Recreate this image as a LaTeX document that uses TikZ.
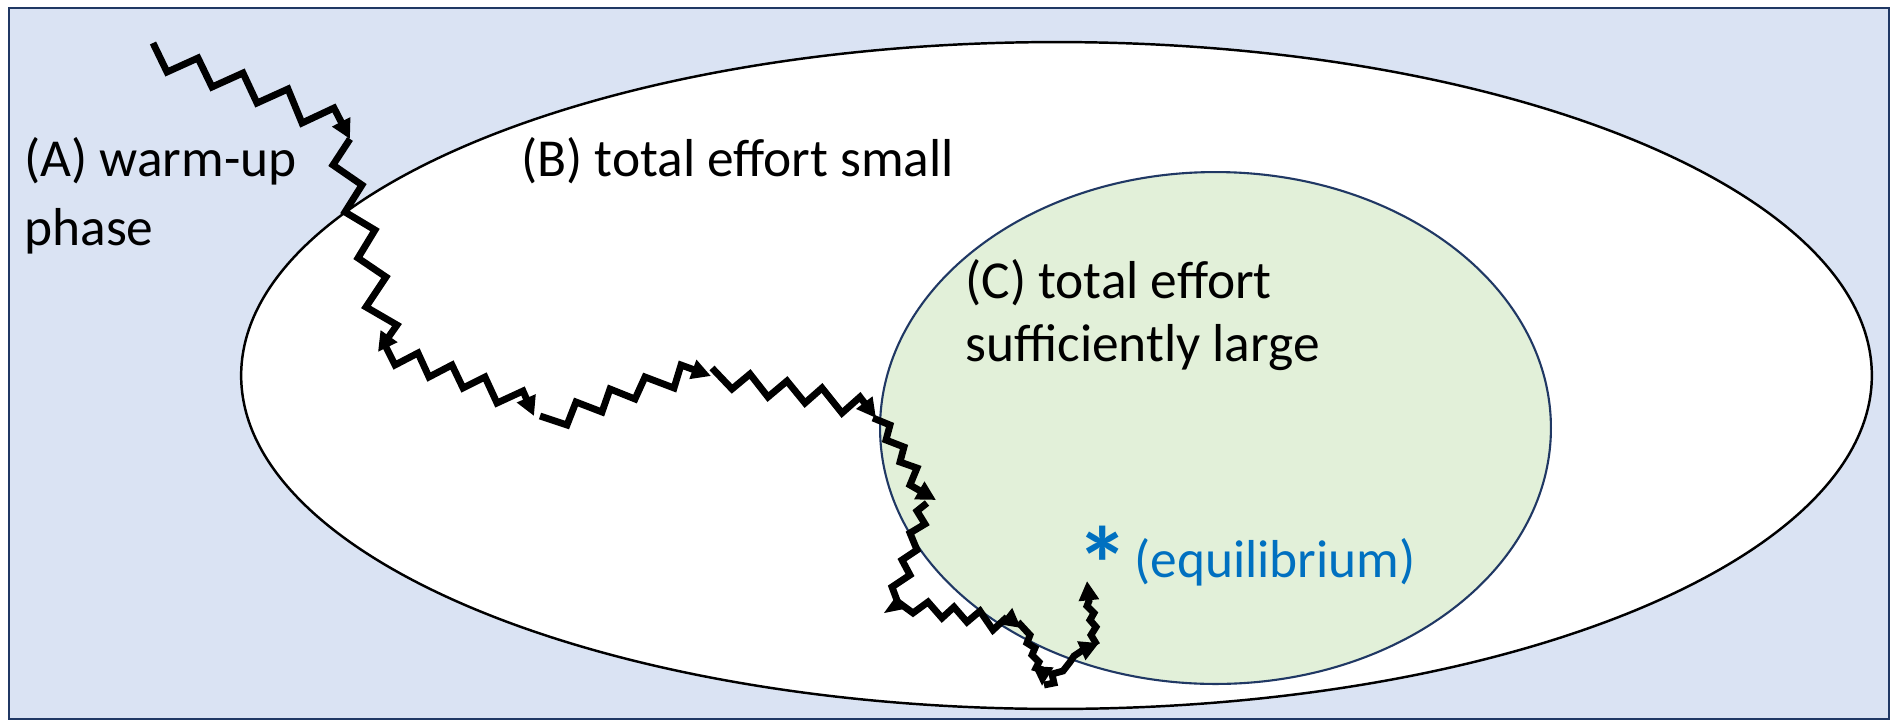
\documentclass[tikz,border=0pt]{standalone}
\usepackage{fontspec}
\setmainfont{Carlito}
\usetikzlibrary{arrows.meta,shapes.geometric}
\definecolor{bgblue}{HTML}{DAE3F3}
\definecolor{frameblue}{HTML}{203864}
\definecolor{zonegreen}{HTML}{E2F0D9}
\definecolor{eqblue}{HTML}{0070C0}
\tikzset{
  walk/.style={line width=3.9pt, black, line join=miter},
  walkarrow/.style={walk, -{Triangle[length=11pt,width=11pt]}},
  label/.style={anchor=base west, inner sep=0pt, font=\fontsize{30.4}{39}\selectfont},
}
\begin{document}
\begin{tikzpicture}[x=0.02cm,y=-0.02cm]
\useasboundingbox (0,0) rectangle (1891,721);
% frame of the warm-up region
\draw[fill=bgblue, draw=frameblue, line width=1.2pt] (9,8) rectangle (1889,719);
% region with small total effort
\node[ellipse, draw=black, fill=white, line width=1.4pt, inner sep=0pt,
      minimum width=32.62cm, minimum height=13.34cm] (outer) at (1056.5,375.5) {};
% region with sufficiently large total effort
\node[ellipse, draw=frameblue, fill=zonegreen, line width=1.2pt, inner sep=0pt,
      minimum width=13.42cm, minimum height=10.24cm] (inner) at (1215.5,428) {};

% labels
\node[label] (lA) at (24,176) {(A) warm-up};
\node[label] (lA2) at (24,245) {phase};
\node[label] (lB) at (521,176) {(B) total effort small};
\node[label] (lC) at (965,298) {(C) total effort};
\node[label] (lC2) at (965,361) {sufficiently large};
\node[anchor=base, inner sep=0pt, text=eqblue, font=\fontsize{60}{60}\bfseries] (star) at (1103,601) {*};
\node[label, text=eqblue] (eq) at (1134,577) {(equilibrium)};

% random walk of the effort profile
\draw[walkarrow] (153,43) -- (167,72) -- (198,58) -- (212,87) -- (243,73) -- (257,103)
  -- (288,89) -- (302,123) -- (334,108) -- (350,139);
\draw[walkarrow] (350,139) -- (333,165) -- (362,185) -- (345,212) -- (375,230) -- (358,258)
  -- (386,277) -- (366,307) -- (397,325) -- (378,352);
\draw[walkarrow] (385,345) -- (395,365) -- (418,353) -- (429,377) -- (452,365) -- (463,388)
  -- (485,377) -- (497,403) -- (523,391) -- (534,416);
\draw[walkarrow] (540,416) -- (567,425) -- (576,402) -- (602,412) -- (610,389) -- (635,399)
  -- (645,377) -- (674,388) -- (681,365) -- (711,376);
\draw[walkarrow] (712,368) -- (732,389) -- (750,374) -- (768,397) -- (787,381) -- (805,403)
  -- (822,388) -- (842,413) -- (860,397) -- (876,418);
\draw[walkarrow] (873,418) -- (890,425) -- (886,440) -- (904,447) -- (900,462) -- (917,468)
  -- (910,485) -- (936,500);
\draw[walk] (927,503) -- (917,511) -- (925,524) -- (910,533) -- (917,550) -- (902,560)
  -- (910,575) -- (892,587) -- (898,603);
\fill (897,595) -- (884,613) -- (904,609) -- cycle;
\draw[walkarrow] (898,602) -- (913,613) -- (928,602) -- (942,618) -- (954,607) -- (967,622)
  -- (980,611) -- (993,630) -- (1007,617) -- (1021,628);
\draw[walkarrow] (1018,622) -- (1030,635) -- (1027,643) -- (1035,648) -- (1032,655)
  -- (1039,662) -- (1036,668) -- (1043,670) -- (1042,686);
\draw[walkarrow] (1044,685) -- (1054,683) -- (1052,674) -- (1063,671) -- (1070,662)
  -- (1074,656) -- (1083,650) -- (1099,643);
\draw[walkarrow] (1097,645) -- (1091,635) -- (1096,627) -- (1090,620) -- (1094,613)
  -- (1087,606) -- (1089,601) -- (1087,581);
\end{tikzpicture}
\end{document}
